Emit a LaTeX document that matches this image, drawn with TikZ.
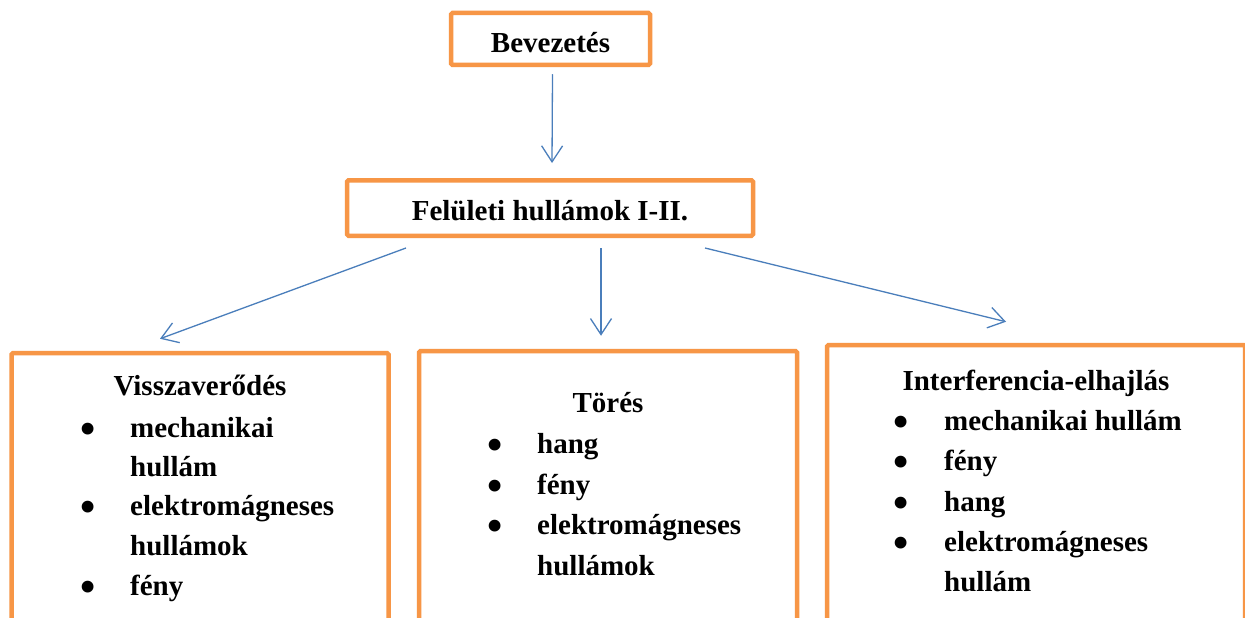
\documentclass[tikz,border=0pt]{standalone}
\usepackage{fontspec}
\setmainfont{Liberation Serif}
\usetikzlibrary{arrows.meta}
\definecolor{boxorange}{HTML}{F79646}
\definecolor{arrowblue}{HTML}{4A7EBB}
\newcommand{\bigbullet}{\scalebox{1.5}{•}}
\begin{document}
\begin{tikzpicture}[x=1pt,y=-1pt,
  box/.style={draw=boxorange,line width=4.5pt,rounded corners=1.5pt,rectangle,inner sep=0pt},
  txt/.style={inner sep=0pt,font=\fontsize{29}{40}\selectfont\bfseries},
  title/.style={txt,anchor=base},
  item/.style={txt,anchor=base west},
  bul/.style={txt,anchor=base,yshift=-6.5pt},
  arr/.style={draw=arrowblue,line width=1.3pt,-{Straight Barb[length=16pt,width=21pt,line width=1.3pt]}}]
\useasboundingbox (0,0) rectangle (1245,618);
\clip (0,0) rectangle (1245,618);
\fill[white] (0,0) rectangle (1245,618);

% boxes
\node[box,minimum width=199pt,minimum height=52pt] (bev) at (550.5,39) {};
\node[box,minimum width=406pt,minimum height=55.5pt] (fel) at (550,208) {};
\node[box,minimum width=377pt,minimum height=275pt] (vissza) at (200,490.5) {};
\node[box,minimum width=378pt,minimum height=270pt] (tores) at (608,486) {};
\node[box,minimum width=418pt,minimum height=276pt] (inter) at (1036,483) {};

% titles
\node[title] (bevt) at (550.5,52.7) {Bevezetés};
\node[title] (felt) at (550,220) {Felületi hullámok I-II.};

% Visszaverődés
\node[title] (vt) at (200,395) {Visszaverődés};
\node[bul] (vb1) at (88,437) {\bigbullet};
\node[item] (v1) at (130,437) {mechanikai};
\node[item] (v1b) at (130,476) {hullám};
\node[bul] (vb2) at (88,515) {\bigbullet};
\node[item] (v2) at (130,515) {elektromágneses};
\node[item] (v2b) at (130,555) {hullámok};
\node[bul] (vb3) at (88,595) {\bigbullet};
\node[item] (v3) at (130,595) {fény};

% Törés
\node[title] (tt) at (608,412) {Törés};
\node[bul] (tb1) at (495,453) {\bigbullet};
\node[item] (t1) at (537,453) {hang};
\node[bul] (tb2) at (495,494) {\bigbullet};
\node[item] (t2) at (537,494) {fény};
\node[bul] (tb3) at (495,534) {\bigbullet};
\node[item] (t3) at (537,534) {elektromágneses};
\node[item] (t3b) at (537,575) {hullámok};

% Interferencia-elhajlás
\node[title] (it) at (1036,390) {Interferencia-elhajlás};
\node[bul] (ib1) at (901,430) {\bigbullet};
\node[item] (i1) at (944,430) {mechanikai hullám};
\node[bul] (ib2) at (901,470) {\bigbullet};
\node[item] (i2) at (944,470) {fény};
\node[bul] (ib3) at (901,511) {\bigbullet};
\node[item] (i3) at (944,511) {hang};
\node[bul] (ib4) at (901,551) {\bigbullet};
\node[item] (i4) at (944,551) {elektromágneses};
\node[item] (i4b) at (944,591) {hullám};

% connectors
\draw[arr] ([xshift=2pt,yshift=-7pt]bev.south) -- ([xshift=2pt,yshift=15pt]fel.north);
\draw[arr] ([xshift=-144pt,yshift=-10pt]fel.south) -- ([xshift=-40pt,yshift=12pt]vissza.north);
\draw[arr] ([xshift=51pt,yshift=-10pt]fel.south) -- ([xshift=-7pt,yshift=13pt]tores.north);
\draw[arr] ([xshift=155pt,yshift=-10pt]fel.south) -- ([xshift=-30pt,yshift=21pt]inter.north);
\end{tikzpicture}
\end{document}
